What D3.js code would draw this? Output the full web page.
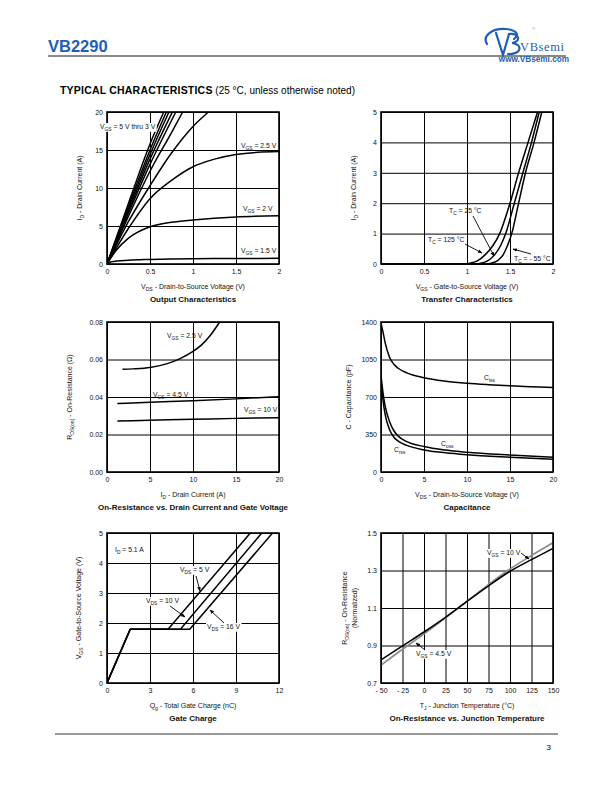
<!DOCTYPE html>
<html><head><meta charset="utf-8">
<script src="https://cdn.jsdelivr.net/npm/d3@7"></script>
<style>
body{margin:0;background:#fff}
svg{display:block;font-family:"Liberation Sans",Arial,Helvetica,sans-serif}
</style>
</head><body>
<svg id="c" width="612" height="792"></svg>
<script>
// ---------- DATA ----------
// Output characteristics: [VDS (V), ID (A)]
const outVgs5   = [[0,0],[0.25,8.0],[0.5,15.8],[0.66,20]];
const outVgs45  = [[0,0],[0.25,7.6],[0.5,15.0],[0.69,20]];
const outVgs4   = [[0,0],[0.25,7.3],[0.5,14.4],[0.72,20]];
const outVgs35  = [[0,0],[0.25,7.0],[0.5,13.8],[0.76,20]];
const outVgs3a  = [[0,0],[0.25,6.7],[0.5,13.1],[0.8,20]];
const outVgs3b  = [[0,0],[0.25,6.3],[0.5,12.2],[0.75,17.3],[0.88,20]];
const outVgs3   = [[0,0],[0.25,5.6],[0.5,10.3],[0.75,14.6],[1.0,18.1],[1.18,20]];
const outVgs25  = [[0,0],[0.25,4.7],[0.5,8.6],[0.75,11.0],[1.0,12.8],[1.25,13.8],[1.5,14.4],[1.75,14.7],[2.0,14.8]];
const outVgs2   = [[0,0],[0.1,1.7],[0.25,3.4],[0.5,4.9],[0.75,5.5],[1.0,5.8],[1.5,6.2],[2.0,6.35]];
const outVgs15  = [[0,0],[0.05,0.3],[0.25,0.5],[0.5,0.6],[1.0,0.7],[1.5,0.72],[2.0,0.75]];
const outXTicks = [0,0.5,1,1.5,2];
const outYTicks = [0,5,10,15,20];

// Transfer characteristics: [VGS (V), ID (A)]
const trT125 = [[0,0],[0.95,0],[1.02,0.02],[1.12,0.1],[1.21,0.3],[1.3,0.6],[1.38,1.0],[1.5,2.0],[1.6,3.0],[1.71,4.0],[1.82,5.0]];
const trT25  = [[0,0],[1.08,0],[1.15,0.02],[1.24,0.1],[1.32,0.3],[1.39,0.6],[1.45,1.0],[1.55,2.0],[1.65,3.0],[1.75,4.0],[1.84,5.0]];
const trTm55 = [[0,0],[1.2,0],[1.27,0.02],[1.35,0.1],[1.42,0.3],[1.47,0.6],[1.52,1.0],[1.6,2.0],[1.68,3.0],[1.78,4.0],[1.87,5.0]];
const trXTicks = [0,0.5,1,1.5,2];
const trYTicks = [0,1,2,3,4,5];

// On-resistance vs drain current: [ID (A), RDS(on) (ohm)]
const rdsVgs25 = [[1.8,0.0548],[3,0.0550],[5,0.0557],[7,0.0578],[8.5,0.0605],[10,0.0643],[11,0.0678],[12,0.0728],[13.1,0.080]];
const rdsVgs45 = [[1.2,0.0365],[5,0.0372],[10,0.0380],[15,0.0390],[20,0.0402]];
const rdsVgs10 = [[1.2,0.0272],[5,0.0276],[10,0.0281],[15,0.0286],[20,0.0290]];
const rdsXTicks = [0,5,10,15,20];
const rdsYTicks = [0,0.02,0.04,0.06,0.08];

// Capacitance: [VDS (V), C (pF)]
const capCiss = [[0,1390],[0.25,1300],[0.5,1200],[1,1070],[1.5,1005],[2,968],[3,925],[5,880],[7.5,848],[10,828],[12.5,815],[15,805],[17.5,796],[20,788]];
const capCoss = [[0,900],[0.25,730],[0.5,610],[1,470],[1.5,385],[2,335],[3,283],[5,238],[7.5,205],[10,184],[15,158],[20,138]];
const capCrss = [[0,860],[0.25,660],[0.5,530],[1,395],[1.5,325],[2,288],[3,248],[5,206],[7.5,180],[10,162],[15,138],[20,118]];
const capXTicks = [0,5,10,15,20];
const capYTicks = [0,350,700,1050,1400];

// Gate charge: [Qg (nC), VGS (V)]
const gcVds5  = [[0,0],[1.62,1.79],[4.26,1.79],[10.0,5.0]];
const gcVds10 = [[0,0],[1.62,1.79],[5.12,1.79],[10.8,5.0]];
const gcVds16 = [[0,0],[1.62,1.79],[5.77,1.79],[11.55,5.0]];
const gcXTicks = [0,3,6,9,12];
const gcYTicks = [0,1,2,3,4,5];

// On-resistance vs junction temperature: [TJ (C), normalized RDS(on)]
const tjVgs45 = [[-50,0.823],[-25,0.898],[0,0.972],[25,1.050],[50,1.135],[75,1.218],[100,1.296],[125,1.358],[150,1.418]];
const tjVgs10 = [[-50,0.795],[-25,0.880],[0,0.962],[25,1.048],[50,1.136],[75,1.225],[100,1.308],[125,1.380],[150,1.448]];
const tjXTicks = [-50,-25,0,25,50,75,100,125,150];
const tjYTicks = [0.7,0.9,1.1,1.3,1.5];

// ---------- DRAW ----------
const svg = d3.select("#c");
const BLUE = "#1d5fb8";

// header
svg.append("text").attr("x",48).attr("y",52).attr("font-size",16.5).attr("font-weight","bold")
  .attr("fill",BLUE).text("VB2290");
svg.append("line").attr("x1",48).attr("x2",566).attr("y1",56).attr("y2",56)
  .attr("stroke","#8a8a8a").attr("stroke-width",2);
// logo
const logo = svg.append("g").attr("fill","none").attr("stroke",BLUE).attr("stroke-width",2.2).attr("stroke-linecap","round");
logo.append("path").attr("d","M487,44 C482,36 492,28 506,29 C516,30 520,34 514,39");
logo.append("path").attr("d","M496,33 L503,55 L509,34");
logo.append("path").attr("d","M509,34 C520,33 521,42 512,43 C523,44 522,55 508,54");
svg.append("text").attr("x",520).attr("y",51).attr("font-family","'Liberation Serif','DejaVu Serif',serif")
  .attr("font-size",12.5).attr("fill",BLUE).attr("letter-spacing",0.6).text("VBsemi");
svg.append("text").attr("x",532).attr("y",30).attr("font-size",4).attr("fill","#888").text("®");
svg.append("text").attr("x",569).attr("y",62).attr("text-anchor","end").attr("font-size",8.2)
  .attr("font-weight","bold").attr("fill",BLUE).text("www.VBsemi.com");

// section title
const st = svg.append("text").attr("x",60).attr("y",94).attr("font-size",10.5).attr("fill","#000");
st.append("tspan").attr("font-weight","900").attr("letter-spacing",0.2).text("TYPICAL CHARACTERISTICS");
st.append("tspan").attr("font-size",10).text(" (25 °C, unless otherwise noted)");

// footer
svg.append("line").attr("x1",55).attr("x2",558).attr("y1",734).attr("y2",734).attr("stroke","#000").attr("stroke-width",0.8);
svg.append("text").attr("x",551).attr("y",750).attr("text-anchor","end").attr("font-size",8).text("3");

// arrow marker
svg.append("defs").append("marker").attr("id","arr").attr("viewBox","0 0 10 10")
  .attr("refX",9).attr("refY",5).attr("markerWidth",5).attr("markerHeight",5).attr("orient","auto")
  .append("path").attr("d","M0,1 L10,5 L0,9 z").attr("fill","#000");

// rich text helper: parts = strings or {s: "sub"}
function rich(sel, x, y, parts, o = {}) {
  const size = o.size || 7;
  const t = sel.append("text").attr("x",x).attr("y",y).attr("font-size",size)
    .attr("text-anchor",o.anchor || "start").attr("font-weight",o.weight || "normal").attr("fill","#111");
  if (o.rotate) t.attr("transform",`rotate(-90,${x},${y})`);
  let shifted = false;
  parts.forEach(p => {
    if (typeof p === "string") {
      const ts = t.append("tspan").text(p);
      if (shifted) { ts.attr("dy",-1.8); shifted = false; }
    } else {
      t.append("tspan").attr("font-size",size*0.72).attr("dy",1.8).text(p.s);
      shifted = true;
    }
  });
  if (o.bg) {
    const b = t.node().getBBox();
    sel.insert("rect","text").attr("x",b.x-1).attr("y",b.y).attr("width",b.width+2).attr("height",b.height).attr("fill","#fff");
    t.raise();
  }
  return t;
}

function chart(cfg) {
  const g = svg.append("g");
  const x = d3.scaleLinear().domain(cfg.xd).range([cfg.l, cfg.l + cfg.w]);
  const y = d3.scaleLinear().domain(cfg.yd).range([cfg.t + cfg.h, cfg.t]);
  const ax = g.append("g").attr("transform",`translate(0,${cfg.t + cfg.h})`)
    .call(d3.axisBottom(x).tickValues(cfg.xt).tickSize(-cfg.h).tickPadding(5).tickFormat(cfg.xf || (d => String(d))));
  const ay = g.append("g").attr("transform",`translate(${cfg.l},0)`)
    .call(d3.axisLeft(y).tickValues(cfg.yt).tickSize(-cfg.w).tickPadding(4).tickFormat(cfg.yf || (d => String(d))));
  [ax, ay].forEach(a => {
    a.select(".domain").remove();
    a.selectAll("line").attr("stroke","#000").attr("stroke-width",1);
    a.selectAll("text").attr("font-size",7).attr("fill","#111").attr("font-family","'Liberation Sans',Arial,sans-serif");
  });
  const clipId = "clip" + Math.round(cfg.l) + "_" + Math.round(cfg.t);
  g.append("clipPath").attr("id",clipId).append("rect")
    .attr("x",cfg.l).attr("y",cfg.t - 1).attr("width",cfg.w).attr("height",cfg.h + 2);
  const curves = g.append("g").attr("clip-path",`url(#${clipId})`);
  g.append("rect").attr("x",cfg.l).attr("y",cfg.t).attr("width",cfg.w).attr("height",cfg.h)
    .attr("fill","none").attr("stroke","#000").attr("stroke-width",1.6);
  const ann = g.append("g");
  const cx = cfg.l + cfg.w / 2;
  rich(g, cx, cfg.t + cfg.h + 25, cfg.xlab, {anchor:"middle"});
  rich(g, cx, cfg.t + cfg.h + 38, [cfg.title], {anchor:"middle", weight:"bold", size:8});
  rich(g, cfg.yx, cfg.t + cfg.h / 2, cfg.ylab, {anchor:"middle", rotate:true});
  if (cfg.ylab2) rich(g, cfg.yx + 10, cfg.t + cfg.h / 2, cfg.ylab2, {anchor:"middle", rotate:true});
  function draw(data, o = {}) {
    const line = d3.line().x(d => x(d[0])).y(d => y(d[1]))
      .curve(o.linear ? d3.curveLinear : d3.curveMonotoneX);
    curves.append("path").datum(data).attr("d",line).attr("fill","none")
      .attr("stroke",o.color || "#000").attr("stroke-width",o.sw || 1.6).attr("stroke-linejoin","round");
  }
  function arrow(x1,y1,x2,y2) {
    ann.append("line").attr("x1",x1).attr("y1",y1).attr("x2",x2).attr("y2",y2)
      .attr("stroke","#000").attr("stroke-width",0.9).attr("marker-end","url(#arr)");
  }
  return {x, y, g, ann, draw, arrow};
}

// 1. Output characteristics
const c1 = chart({l:107,t:112,w:172,h:152,xd:[0,2],yd:[0,20],xt:outXTicks,yt:outYTicks,
  xlab:["V",{s:"DS"}," - Drain-to-Source Voltage (V)"],title:"Output Characteristics",
  ylab:["I",{s:"D"}," - Drain Current (A)"],yx:82});
[outVgs5,outVgs45,outVgs4,outVgs35,outVgs3a,outVgs3b,outVgs3,outVgs25,outVgs2,outVgs15].forEach(d => c1.draw(d,{sw:1.5}));
rich(c1.ann,100,129,["V",{s:"GS"}," = 5 V thru 3 V"],{bg:true,size:6.8});
rich(c1.ann,241,148,["V",{s:"GS"}," = 2.5 V"],{size:6.8});
rich(c1.ann,243,211,["V",{s:"GS"}," = 2 V"],{size:6.8});
rich(c1.ann,241,253,["V",{s:"GS"}," = 1.5 V"],{size:6.8});

// 2. Transfer characteristics
const c2 = chart({l:381,t:112,w:172,h:152,xd:[0,2],yd:[0,5],xt:trXTicks,yt:trYTicks,
  xlab:["V",{s:"GS"}," - Gate-to-Source Voltage (V)"],title:"Transfer Characteristics",
  ylab:["I",{s:"D"}," - Drain Current (A)"],yx:356});
[trT125,trT25,trTm55].forEach(d => c2.draw(d,{sw:1.5}));
rich(c2.ann,449,213,["T",{s:"C"}," = 25 °C"],{size:6.8});
rich(c2.ann,428,242,["T",{s:"C"}," = 125 °C"],{size:6.8});
rich(c2.ann,514,261,["T",{s:"C"}," = - 55 °C"],{size:6.8});
c2.arrow(473,216,494,256);
c2.arrow(465,244,482,253);
c2.arrow(531,254,513,249);

// 3. On-resistance vs drain current
const c3 = chart({l:107,t:322,w:172,h:150,xd:[0,20],yd:[0,0.08],xt:rdsXTicks,yt:rdsYTicks,yf:d3.format(".2f"),
  xlab:["I",{s:"D"}," - Drain Current (A)"],title:"On-Resistance vs. Drain Current and Gate Voltage",
  ylab:["R",{s:"DS(on)"}," - On-Resistance (Ω)"],yx:72});
[rdsVgs25,rdsVgs45,rdsVgs10].forEach(d => c3.draw(d,{sw:1.5}));
rich(c3.ann,167,338,["V",{s:"GS"}," = 2.5 V"],{size:6.8});
rich(c3.ann,153,397,["V",{s:"GS"}," = 4.5 V"],{size:6.8});
rich(c3.ann,244,412,["V",{s:"GS"}," = 10 V"],{size:6.8});

// 4. Capacitance
const c4 = chart({l:381,t:322,w:172,h:150,xd:[0,20],yd:[0,1400],xt:capXTicks,yt:capYTicks,
  xlab:["V",{s:"DS"}," - Drain-to-Source Voltage (V)"],title:"Capacitance",
  ylab:["C - Capacitance (pF)"],yx:351});
[capCiss,capCoss,capCrss].forEach(d => c4.draw(d,{sw:1.5}));
rich(c4.ann,484,380,["C",{s:"iss"}],{size:6.8});
rich(c4.ann,441,446,["C",{s:"oss"}],{size:6.8});
rich(c4.ann,394,452,["C",{s:"rss"}],{size:6.8});

// 5. Gate charge
const c5 = chart({l:107,t:533,w:172,h:150,xd:[0,12],yd:[0,5],xt:gcXTicks,yt:gcYTicks,
  xlab:["Q",{s:"g"}," - Total Gate Charge (nC)"],title:"Gate Charge",
  ylab:["V",{s:"GS"}," - Gate-to-Source Voltage (V)"],yx:81});
[gcVds5,gcVds10,gcVds16].forEach(d => c5.draw(d,{linear:true,sw:1.5}));
rich(c5.ann,115,552,["I",{s:"D"}," = 5.1 A"],{size:6.8});
rich(c5.ann,180,572,["V",{s:"DS"}," = 5 V"],{size:6.8,bg:true});
rich(c5.ann,146,603,["V",{s:"DS"}," = 10 V"],{size:6.8,bg:true});
rich(c5.ann,207,629,["V",{s:"DS"}," = 16 V"],{size:6.8,bg:true});
c5.arrow(196,576,200,591);
c5.arrow(170,606,185,617);
c5.arrow(224,623,210,610);

// 6. On-resistance vs junction temperature
const c6 = chart({l:381,t:533,w:172,h:150,xd:[-50,150],yd:[0.7,1.5],xt:tjXTicks,yt:tjYTicks,
  xf:d => d < 0 ? "- " + Math.abs(d) : String(d), yf:d3.format(".1f"),
  xlab:["T",{s:"J"}," - Junction Temperature (°C)"],title:"On-Resistance vs. Junction Temperature",
  ylab:["R",{s:"DS(on)"}," - On-Resistance"],ylab2:["(Normalized)"],yx:347});
c6.draw(tjVgs10,{color:"#8c8c8c",sw:1.7});
c6.draw(tjVgs45,{color:"#000",sw:1.5});
rich(c6.ann,487,555,["V",{s:"GS"}," = 10 V"],{size:6.8,bg:true});
rich(c6.ann,416,656,["V",{s:"GS"}," = 4.5 V"],{size:6.8,bg:true});
c6.arrow(521,553,529,559);
c6.arrow(425,650,416,643);
</script>
</body></html>
